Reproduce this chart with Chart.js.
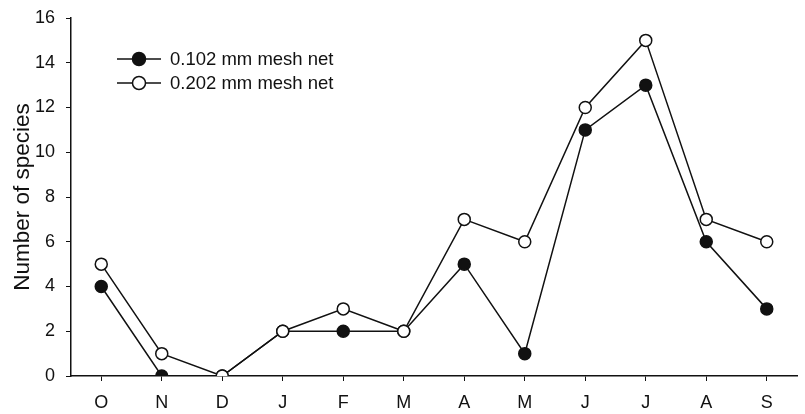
<!DOCTYPE html>
<html>
<head>
<meta charset="utf-8">
<script src="https://cdn.jsdelivr.net/npm/chart.js@4/dist/chart.umd.min.js"></script>
<style>
  html, body { margin: 0; padding: 0; background: #fff; }
  #wrap { width: 805px; height: 414px; position: relative; }
</style>
</head>
<body>
<div id="wrap"><canvas id="c" width="805" height="414"></canvas></div>
<script>
// Months, October to September
const months = ['O', 'N', 'D', 'J', 'F', 'M', 'A', 'M', 'J', 'J', 'A', 'S'];
// Species counts per sampling month
const fineMesh = [4, 0, 0, 2, 2, 2, 5, 1, 11, 13, 6, 3];
const coarseMesh = [5, 1, 0, 2, 3, 2, 7, 6, 12, 15, 7, 6];
const seriesNames = ['0.102 mm mesh net', '0.202 mm mesh net'];
const yTicks = [0, 2, 4, 6, 8, 10, 12, 14, 16];

const ink = '#111';
const FONT = '"Liberation Sans", Arial, sans-serif';

// Legend inside the plot: line with marker, then the label
const insetLegend = {
  id: 'insetLegend',
  afterDraw(chart) {
    const ctx = chart.ctx;
    const rows = [59, 83];
    chart.data.datasets.forEach((ds, i) => {
      const y = rows[i];
      ctx.save();
      ctx.strokeStyle = ink;
      ctx.lineWidth = 1.5;
      ctx.beginPath();
      ctx.moveTo(117, y);
      ctx.lineTo(161, y);
      ctx.stroke();
      ctx.beginPath();
      ctx.arc(139, y, 6.5, 0, Math.PI * 2);
      ctx.fillStyle = ds.pointBackgroundColor;
      ctx.fill();
      ctx.stroke();
      ctx.fillStyle = ink;
      ctx.font = '18.5px ' + FONT;
      ctx.textBaseline = 'middle';
      ctx.textAlign = 'left';
      ctx.fillText(ds.label, 170, y + 1);
      ctx.restore();
    });
  }
};

new Chart(document.getElementById('c'), {
  type: 'line',
  data: {
    labels: months,
    datasets: [
      {
        label: seriesNames[0],
        data: fineMesh,
        order: 1,
        borderColor: ink,
        borderWidth: 1.5,
        pointRadius: 6,
        pointBorderWidth: 1.5,
        pointBorderColor: ink,
        pointBackgroundColor: ink,
        tension: 0
      },
      {
        label: seriesNames[1],
        data: coarseMesh,
        order: 0,
        borderColor: ink,
        borderWidth: 1.5,
        pointRadius: 6,
        pointBorderWidth: 1.5,
        pointBorderColor: ink,
        pointBackgroundColor: '#fff',
        tension: 0
      }
    ]
  },
  options: {
    responsive: false,
    animation: false,
    devicePixelRatio: 1,
    layout: { padding: { top: 18, right: 8, left: 0, bottom: 0 } },
    plugins: {
      legend: { display: false },
      tooltip: { enabled: false }
    },
    scales: {
      x: {
        offset: true,
        grid: {
          display: true,
          drawOnChartArea: false,
          drawTicks: true,
          tickLength: 5,
          color: ink,
          offset: false
        },
        border: { color: ink, width: 1.5 },
        ticks: {
          color: ink,
          font: { family: FONT, size: 18 },
          padding: 11,
          maxRotation: 0,
          autoSkip: false
        },
        afterFit(scale) {
          scale.height = 38;
          scale.paddingLeft = 0;
          scale.paddingRight = 0;
        }
      },
      y: {
        min: 0,
        max: 16,
        afterBuildTicks(scale) { scale.ticks = yTicks.map(v => ({ value: v })); },
        grid: {
          display: true,
          drawOnChartArea: false,
          drawTicks: true,
          tickLength: 5,
          color: ink
        },
        border: { color: ink, width: 1.5 },
        ticks: {
          color: ink,
          font: { family: FONT, size: 18 },
          padding: 11
        },
        title: {
          display: true,
          text: 'Number of species',
          color: ink,
          font: { family: FONT, size: 22.5 },
          padding: { top: 9, bottom: 0 }
        },
        afterFit(scale) {
          scale.width = 71;
          scale.paddingTop = 0;
          scale.paddingBottom = 0;
        }
      }
    }
  },
  plugins: [insetLegend]
});
</script>
</body>
</html>
